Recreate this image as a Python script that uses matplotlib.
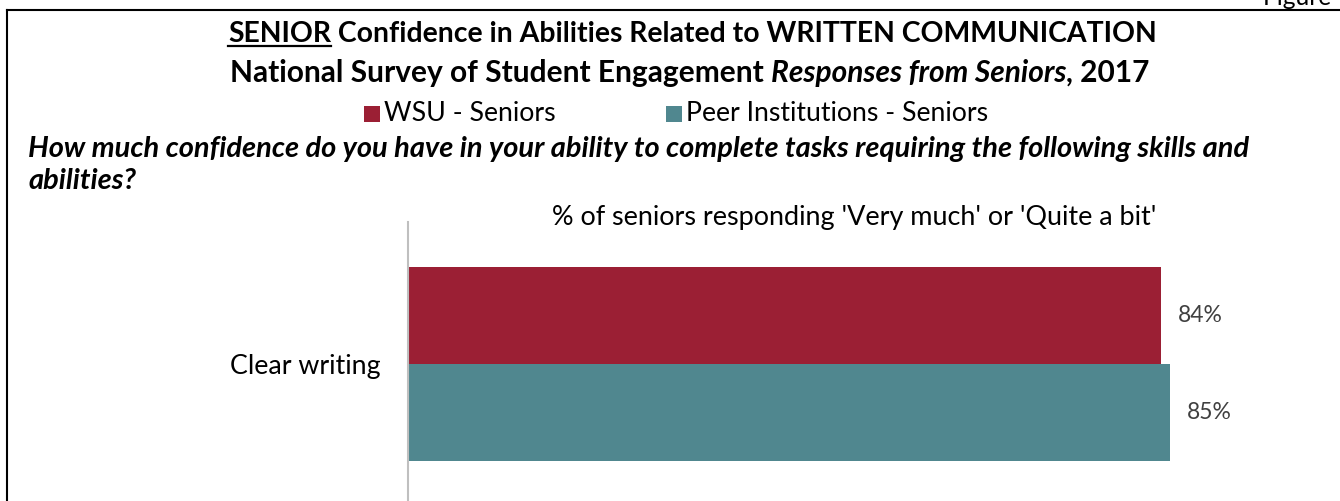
import matplotlib.pyplot as plt
from matplotlib.patches import Rectangle
from matplotlib.lines import Line2D

plt.rcParams['font.family'] = ['Lato', 'DejaVu Sans']

# data
categories = ['Clear writing']
series_names = ['WSU - Seniors', 'Peer Institutions - Seniors']
wsu_vals = [84]
peer_vals = [85]
colors = ['#9B1F34', '#50878F']

W, H = 1340, 501
fig = plt.figure(figsize=(W / 100, H / 100), dpi=100)
r = fig.canvas.get_renderer()


def fx(x):
    return x / W


def fy(y):
    return 1 - y / H


def fit_size(s, target, **kw):
    """font size so that string s is target px wide"""
    t = fig.text(0, 0, s, fontsize=10, **kw)
    w = t.get_window_extent(r).width
    t.remove()
    return 10 * target / w


def runs(pieces, x0, x1, y, underline_first=False):
    """lay out (text, weight, style) pieces on one baseline between x0 and x1"""
    probe = [fig.text(0, 0, s, fontsize=10, fontweight=w, fontstyle=st) for s, w, st in pieces]
    tot = sum(t.get_window_extent(r).width for t in probe)
    for t in probe:
        t.remove()
    size = 10 * (x1 - x0) / tot
    x = x0
    for i, (s, w, st) in enumerate(pieces):
        t = fig.text(fx(x), fy(y), s, fontsize=size, fontweight=w, fontstyle=st, va='baseline')
        wd = t.get_window_extent(r).width
        if i == 0 and underline_first:
            fig.add_artist(Line2D([fx(x), fx(x + wd)], [fy(y + 4), fy(y + 4)], color='black', lw=1.6))
        x += wd


# title
runs([('SENIOR', 'bold', 'normal'),
      (' Confidence in Abilities Related to WRITTEN COMMUNICATION', 'bold', 'normal')],
     228, 1158, 42, underline_first=True)
runs([('National Survey of Student Engagement ', 'bold', 'normal'),
      ('Responses from Seniors', 'bold', 'italic'),
      (', 2017', 'bold', 'normal')],
     230, 1152, 82)

# legend
leg_size = fit_size(series_names[1], 302)
for name, c, sx in zip(series_names, colors, [364, 666]):
    fig.add_artist(Rectangle((fx(sx), fy(122)), 16 / W, 16 / H, color=c, lw=0))
    fig.text(fx(sx + 20), fy(121), name, fontsize=leg_size, va='baseline')

# question
q1 = 'How much confidence do you have in your ability to complete tasks requiring the following skills and'
q_size = fit_size(q1, 1217, fontweight='bold', fontstyle='italic')
fig.text(fx(28), fy(157), q1, fontsize=q_size, fontweight='bold', fontstyle='italic', va='baseline')
fig.text(fx(28), fy(189), 'abilities?', fontsize=q_size, fontweight='bold', fontstyle='italic', va='baseline')

sub = "% of seniors responding 'Very much' or 'Quite a bit'"
fig.text(fx(552), fy(225), sub, fontsize=fit_size(sub, 608), va='baseline')

# border and the page label that is cut off at the top edge
fig.add_artist(Line2D([fx(7), 1], [fy(10), fy(10)], color='black', lw=1.5))
fig.add_artist(Line2D([fx(7), fx(7)], [fy(10), 0], color='black', lw=1.5))
fig.text(fx(1263), fy(5), 'Figure 1', fontsize=fit_size('Figure', 68), va='baseline')

# chart
ax = fig.add_axes([fx(408), fy(506), (1305 - 408) / W, (506 - 222) / H])
bh = 97 / 284
ypos = list(range(len(categories)))
b1 = ax.barh([y + bh / 2 for y in ypos], wsu_vals, height=bh, color=colors[0])
b2 = ax.barh([y - bh / 2 for y in ypos], peer_vals, height=bh, color=colors[1])
lab_size = fit_size('84%', 45)
for bars in (b1, b2):
    ax.bar_label(bars, labels=[f'{v}%' for v in bars.datavalues], padding=16 * 0.72,
                 fontsize=lab_size, color='#404040')

ax.set_xlim(0, 100)
ax.set_ylim(-0.5, 0.5)
ax.set_xticks([])
ax.set_yticks(ypos)
ax.set_yticklabels(categories, fontsize=fit_size(categories[0], 150))
ax.tick_params(axis='y', length=0, pad=27 * 0.72)
for side in ['top', 'right', 'bottom']:
    ax.spines[side].set_visible(False)
ax.spines['left'].set_color('#BFBFBF')
ax.spines['left'].set_linewidth(1.5)
ax.patch.set_alpha(0)

fig.savefig('out.png', dpi=100)
